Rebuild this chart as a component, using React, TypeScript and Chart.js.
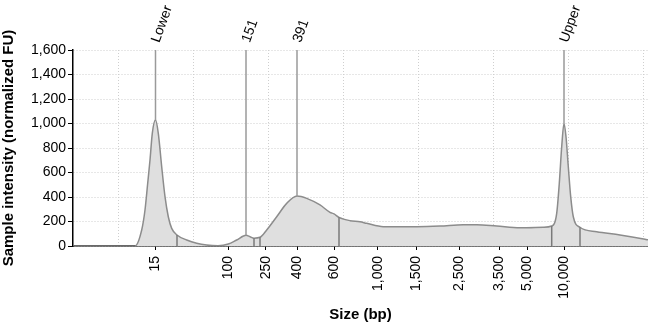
import React, { useEffect, useRef } from "react";
import { Chart, registerables } from "chart.js";

Chart.register(...registerables);

const FONT = '"Liberation Sans", Arial, Helvetica, sans-serif';

// Electropherogram trace: run position (plot units) and sample intensity (normalized FU)
const tracePosition = [
  0, 62, 68.7, 72, 74.7, 77, 79.3, 82.5, 85.3, 88.7, 92, 95.3, 98.7, 104, 113.7, 123.7, 133.7, 145,
  155.3, 163.7, 173, 177, 181, 187, 193.7, 203.7, 213.7, 224, 233.7, 247, 257, 261, 266, 277, 287,
  293.7, 310.3, 323.7, 343.7, 367, 390.3, 403.7, 423.7, 447, 470.3, 478.7, 483.7, 486.3, 488.7, 491,
  493, 495.3, 497.7, 500.3, 507, 523.7, 547, 572, 575,
];
const traceIntensity = [
  0, 0, 131, 294, 512, 702, 920, 1028, 920, 647, 403, 239, 144, 90, 49, 22, 8, 3,
  16, 49, 87, 76, 64, 71, 131, 239, 348, 408, 389, 335, 275, 262, 234, 207, 198,
  185, 158, 158, 158, 163, 174, 174, 163, 149, 153, 163, 267, 512, 810, 1000,
  892, 647, 403, 239, 153, 117, 90, 55, 50,
];

// Size ladder tick labels (bp) and their run positions
const sizeTickPositions = [82, 155.3, 192.7, 224.3, 261, 304.7, 343, 386.3, 426.3, 454.5, 491.3];
const sizeTickLabels = ["15", "100", "250", "400", "600", "1,000", "1,500", "2,500", "3,500", "5,000", "10,000"];

// Vertical grid positions
const gridPositions = [45, 120, 195, 270, 345, 420, 495, 570];

// Peak markers
const markerNames = ["Lower", "151", "391", "Upper"];
const markerPositions = [82.5, 173, 224, 491];
const markerPeaks = [1028, 87, 408, 1000];

// Region boundary lines
const boundaryPositions = [104, 181, 187, 266, 478.7, 507];
const boundaryHeights = [90, 64, 71, 234, 163, 153];

const X_MIN = 0;
const X_MAX = 575;
const Y_MIN = 0;
const Y_MAX = 1600;
const Y_STEP = 200;

const markerLabelPlugin = {
  id: "markerLabels",
  afterDraw(chart: any) {
    const { ctx, chartArea, scales } = chart;
    ctx.save();
    ctx.font = `14px ${FONT}`;
    ctx.fillStyle = "#000";
    ctx.textAlign = "left";
    ctx.textBaseline = "middle";
    markerNames.forEach((name, i) => {
      const px = scales.x.getPixelForValue(markerPositions[i]);
      ctx.save();
      ctx.translate(px, chartArea.top - 8);
      ctx.rotate((-70 * Math.PI) / 180);
      ctx.fillText(name, 0, 0);
      ctx.restore();
    });
    ctx.restore();
  },
};

export default function App() {
  const canvasRef = useRef<HTMLCanvasElement | null>(null);

  useEffect(() => {
    document.body.style.margin = "0";
    const canvas = canvasRef.current;
    if (!canvas) return;

    const traceData = tracePosition.map((x, i) => ({ x, y: traceIntensity[i] }));

    const markerDatasets = markerPositions.map((x, i) => ({
      label: markerNames[i],
      data: [
        { x, y: Y_MAX },
        { x, y: markerPeaks[i] },
      ],
      borderColor: "#9a9a9a",
      borderWidth: 1.5,
      pointRadius: 0,
      fill: false,
      tension: 0,
      order: 0,
    }));

    const boundaryDatasets = boundaryPositions.map((x, i) => ({
      label: "b" + i,
      data: [
        { x, y: 0 },
        { x, y: boundaryHeights[i] },
      ],
      borderColor: "#7a7a7a",
      borderWidth: 1.5,
      pointRadius: 0,
      fill: false,
      tension: 0,
      order: 1,
    }));

    const chart = new Chart(canvas, {
      type: "line",
      data: {
        datasets: [
          {
            label: "trace",
            data: traceData,
            borderColor: "#8c8c8c",
            backgroundColor: "#dfdfdf",
            borderWidth: 1.5,
            pointRadius: 0,
            fill: "origin",
            cubicInterpolationMode: "monotone",
            order: 10,
          },
          ...boundaryDatasets,
          ...markerDatasets,
        ] as any,
      },
      options: {
        animation: false,
        responsive: false,
        events: [],
        layout: { padding: { top: 50, left: 0, right: 0, bottom: 0 } },
        plugins: {
          legend: { display: false },
          tooltip: { enabled: false },
        },
        scales: {
          x: {
            type: "linear",
            position: "bottom",
            min: X_MIN,
            max: X_MAX,
            z: 1,
            afterBuildTicks: (s: any) => {
              s.ticks = sizeTickPositions.map((v) => ({ value: v }));
            },
            afterFit: (s: any) => {
              s.height = 78;
            },
            ticks: {
              autoSkip: false,
              minRotation: 90,
              maxRotation: 90,
              padding: 6,
              color: "#000",
              font: { size: 14, family: FONT },
              callback: (_v: any, i: number) => sizeTickLabels[i],
            },
            grid: {
              display: true,
              drawOnChartArea: false,
              drawTicks: true,
              tickLength: 4,
              tickColor: "#000",
            },
            border: { display: true, color: "#000", width: 1.5 },
            title: {
              display: true,
              text: "Size (bp)",
              color: "#000",
              padding: 0,
              font: { size: 15, weight: "bold", family: FONT },
            },
          },
          xg: {
            type: "linear",
            position: "bottom",
            min: X_MIN,
            max: X_MAX,
            afterBuildTicks: (s: any) => {
              s.ticks = gridPositions.map((v) => ({ value: v }));
            },
            afterFit: (s: any) => {
              s.height = 0;
            },
            ticks: { display: false },
            grid: { color: "#cfcfcf", lineWidth: 1, drawTicks: false },
            border: { display: false, dash: [1, 2] },
          },
          y: {
            min: Y_MIN,
            max: Y_MAX,
            z: 1,
            afterFit: (s: any) => {
              s.width = 73;
            },
            ticks: {
              stepSize: Y_STEP,
              padding: 2,
              color: "#000",
              font: { size: 14, family: FONT },
            },
            grid: {
              color: "#cfcfcf",
              lineWidth: 1,
              tickColor: "#000",
              tickLength: 5,
              tickBorderDash: [],
            },
            border: { display: true, color: "#000", width: 1.5, dash: [1, 2] },
            title: {
              display: true,
              text: "Sample intensity (normalized FU)",
              color: "#000",
              padding: 0,
              font: { size: 15, weight: "bold", family: FONT },
            },
          },
        } as any,
      },
      plugins: [markerLabelPlugin],
    });

    return () => {
      chart.destroy();
    };
  }, []);

  return <canvas ref={canvasRef} width={648} height={324} style={{ display: "block" }} />;
}
